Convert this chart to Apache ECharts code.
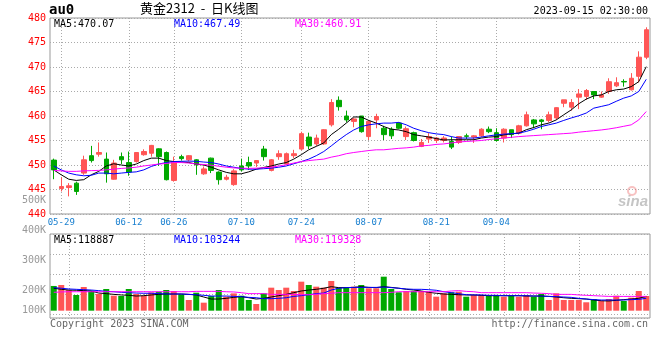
<!DOCTYPE html>
<html><head><meta charset="utf-8">
<script src="https://cdn.jsdelivr.net/npm/echarts@6/dist/echarts.min.js"></script>
<style>html,body{margin:0;padding:0;background:#fff}#c{width:660px;height:360px}</style>
</head><body><div id="c"></div>
<script>
const categories = ['05-25','05-26','05-29','05-30','05-31','06-01','06-02','06-05','06-06','06-07',
'06-08','06-09','06-12','06-13','06-14','06-15','06-16','06-19','06-20','06-21',
'06-26','06-27','06-28','06-29','06-30','07-03','07-04','07-05','07-06','07-07',
'07-10','07-11','07-12','07-13','07-14','07-17','07-18','07-19','07-20','07-21',
'07-24','07-25','07-26','07-27','07-28','07-31','08-01','08-02','08-03','08-04',
'08-07','08-08','08-09','08-10','08-11','08-14','08-15','08-16','08-17','08-18',
'08-21','08-22','08-23','08-24','08-25','08-28','08-29','08-30','08-31','09-01',
'09-04','09-05','09-06','09-07','09-08','09-11','09-12','09-13','09-14','09-15'];
const opens = [451.0,445.2,445.4,446.3,448.35,451.9,452.2,451.2,447.1,451.7,
450.5,450.7,452.1,452.4,453.3,452.55,446.85,451.7,451.06,451.06,
448.2,451.4,448.55,447.1,446.0,449.8,450.5,450.4,453.25,448.9,
451.7,450.2,451.9,453.25,455.7,454.3,454.3,458.2,463.2,460.0,
458.9,460.0,455.8,459.2,457.5,457.3,458.55,455.8,456.6,453.8,
455.3,455.0,455.0,454.8,454.6,455.95,455.7,455.95,457.3,456.6,
455.5,457.2,456.5,458.0,459.2,459.2,459.1,459.6,462.6,461.8,
463.85,464.0,465.0,463.85,465.0,466.15,467.05,465.35,468.1,472.0];
const closes = [449.0,445.6,445.75,444.6,451.06,450.9,452.55,448.2,450.4,451.06,
448.55,452.55,452.75,454.0,451.7,447.0,450.7,451.3,451.9,450.04,
449.2,448.9,447.0,447.5,448.8,449.0,449.8,450.9,451.7,451.06,
452.3,452.3,452.3,456.4,453.9,455.5,457.2,462.75,461.9,459.2,
459.4,456.8,458.9,459.9,456.2,455.95,457.5,457.4,455.0,454.6,
455.8,455.5,455.5,453.65,455.8,455.85,455.95,457.3,456.8,455.0,
457.3,456.2,458.0,460.25,458.4,458.9,460.25,461.7,463.3,462.75,
464.5,465.2,464.3,464.3,467.0,466.8,466.95,467.7,472.0,477.6];
const lows = [447.1,444.6,443.6,443.9,448.0,450.5,451.7,446.4,447.0,450.2,
447.8,450.5,451.9,451.7,449.8,446.85,446.6,450.9,450.7,448.0,
448.0,448.35,446.0,446.85,445.75,448.7,449.0,449.6,450.9,448.7,
451.06,450.04,451.4,453.0,453.25,453.9,454.1,457.85,461.1,458.7,
457.7,456.6,455.1,457.5,455.1,455.3,457.3,455.1,454.8,453.65,
454.5,454.5,454.6,453.25,454.3,455.3,454.5,455.7,456.5,454.8,
454.6,455.5,456.2,457.85,457.5,457.3,458.7,459.2,461.8,461.1,
461.4,463.3,463.45,463.7,464.5,465.9,466.0,465.2,466.85,471.6];
const highs = [451.3,447.5,446.3,446.6,451.9,453.9,454.6,452.55,451.06,452.55,
452.75,452.6,453.2,454.1,453.4,452.75,451.7,452.1,452.0,451.2,
449.7,451.5,448.7,448.0,449.15,451.3,451.7,451.0,453.9,451.2,
453.0,452.55,453.1,456.8,456.6,456.2,457.3,463.45,464.0,461.1,
459.6,460.0,459.1,460.45,458.0,457.7,458.7,457.85,456.8,455.3,
456.5,455.7,455.9,455.8,455.9,456.4,456.1,457.5,457.85,457.5,
457.5,457.2,458.2,460.9,459.4,459.4,460.9,461.8,463.3,463.45,
465.5,465.5,465.0,465.0,467.7,467.9,467.5,468.75,473.2,478.1];
const ma5 = [449.0,448.0,447.1,446.85,447.0,448.0,448.7,449.8,450.25,450.0,
449.8,450.2,450.9,451.4,451.4,450.9,450.7,450.6,450.5,450.2,
450.0,449.55,449.0,448.5,448.2,448.2,448.6,449.15,449.5,449.8,
450.2,450.5,451.2,452.1,453.1,453.8,454.5,456.2,457.3,458.55,
459.8,459.8,459.1,458.55,457.85,457.3,457.15,456.8,456.2,455.95,
455.7,455.4,455.1,455.15,455.15,455.15,455.15,455.5,455.7,455.8,
456.15,456.35,456.5,457.2,457.65,458.2,458.55,459.2,460.25,461.25,
462.5,463.45,464.1,464.3,465.0,465.35,465.5,466.0,467.0,470.07];
const ma10 = [449.8,449.0,448.35,448.0,447.8,447.9,448.35,448.35,448.2,448.35,
448.5,448.6,449.0,449.7,450.2,450.5,450.7,450.75,450.8,450.75,
450.6,450.5,450.2,449.8,449.55,449.3,449.15,449.15,449.25,449.35,
449.55,449.8,450.25,450.7,451.2,451.9,452.75,453.9,455.1,456.2,
457.15,457.85,458.2,458.4,458.55,458.55,458.7,458.2,457.5,457.0,
456.6,456.35,456.2,455.8,455.5,455.5,455.5,455.7,455.95,456.15,
456.3,456.4,456.5,456.85,457.3,457.85,458.2,458.55,459.1,459.6,
460.05,460.6,461.6,461.95,462.3,463.0,463.65,464.1,465.0,467.49];
const ma30 = [448.9,448.8,448.7,448.7,448.8,448.85,448.9,449.0,449.15,449.3,
449.4,449.55,449.8,450.0,450.2,450.3,450.5,450.5,450.4,450.2,
450.1,449.95,449.75,449.55,449.4,449.35,449.3,449.35,449.45,449.55,
449.8,450.04,450.4,450.7,450.9,451.06,451.2,451.6,451.9,452.3,
452.55,452.75,452.95,453.1,453.1,453.25,453.4,453.5,453.65,453.9,
454.0,454.2,454.3,454.5,454.7,454.8,454.9,455.0,455.2,455.35,
455.5,455.65,455.8,455.9,456.0,456.1,456.2,456.3,456.4,456.5,
456.7,456.85,457.0,457.15,457.35,457.6,457.9,458.2,459.2,460.91];
const volumes = [206000,214000,172500,130800,197500,166700,139200,180800,125000,122500,
180800,139200,125000,152500,158300,172500,164200,135800,89200,150000,
66700,122500,172500,116700,144200,125000,89200,55800,144200,191700,
172500,191700,164200,241700,214200,200000,191700,247500,191700,191700,
200000,214200,186700,186700,283300,180800,153300,164200,164200,164200,
158300,116700,145000,153300,158300,116700,130800,130800,125000,130800,
116700,125000,116700,130800,116700,139200,89200,145000,89200,89200,
89200,70000,97500,80800,97500,125000,80800,108300,164200,122500];
const volMa5 = [187000,178000,172000,170000,167000,164000,147000,142000,136000,131000,
128000,122000,125000,131000,136000,139000,139000,139000,136000,131000,
114000,97000,97000,103000,111000,117000,108000,97000,103000,114000,
125000,136000,150000,164000,172000,178000,187000,200000,192000,192000,
194000,200000,194000,192000,200000,194000,187000,178000,172000,164000,
153000,145000,139000,136000,133000,131000,131000,128000,125000,125000,
125000,125000,125000,122000,122000,122000,119000,114000,108000,103000,
100000,97000,89000,83000,81000,86000,92000,97000,103000,118887];
const volMa10 = [192000,187000,181000,178000,175000,172000,167000,161000,158000,153000,
150000,147000,145000,145000,142000,139000,139000,139000,136000,133000,
128000,122000,122000,122000,119000,117000,111000,108000,100000,100000,
103000,108000,119000,125000,133000,142000,147000,172000,187000,192000,
194000,194000,194000,194000,197000,192000,187000,181000,178000,178000,
175000,170000,158000,150000,142000,133000,131000,131000,128000,128000,
125000,125000,125000,125000,122000,122000,119000,117000,114000,111000,
103000,97000,92000,89000,89000,89000,89000,92000,94000,103244];
const volMa30 = [153000,156000,158000,158000,158000,158000,158000,158000,158000,158000,
158000,158000,158000,158000,158000,158000,158000,158000,158000,161000,
161000,161000,161000,158000,156000,150000,142000,142000,142000,136000,
136000,136000,136000,133000,133000,136000,142000,145000,150000,150000,
150000,150000,150000,150000,150000,153000,158000,158000,158000,158000,
158000,158000,158000,164000,167000,161000,158000,150000,150000,150000,
150000,150000,150000,150000,147000,145000,142000,136000,136000,136000,
131000,128000,125000,122000,119000,119000,119000,119000,119000,119328];
const tickLabels = ['05-29','06-12','06-26','07-10','07-24','08-07','08-21','09-04'];
const tickIndex = [1,10,16,25,33,42,51,59];
const volGridIndex = [2,12,40,50,60,70];
const priceAxis = {min:440, max:480, step:5};
const volLabelAxis = {min:100000, max:500000, step:100000};
const title = {code:'au0', name:'黄金2312  -  日K线图', time:'2023-09-15 02:30:00'};
const priceLegend = ['MA5:470.07','MA10:467.49','MA30:460.91'];
const volLegend = ['MA5:118887','MA10:103244','MA30:119328'];

const mono = '"DejaVu Sans Mono", monospace';
const UP = '#ff5555', DOWN = '#00a800';
const MA_COLORS = ['#000000','#0000ff','#ff00ff'];
const dotted = {color:'#aaaaaa', type:[1,2], width:1};
const showTick = (i) => tickIndex.indexOf(i) >= 0;
const showVolGrid = (i) => volGridIndex.indexOf(i) >= 0;

const candleData = opens.map((o,i)=>[o, closes[i], lows[i], highs[i]]);
const volData = volumes.map((v,i)=>({value:v, itemStyle:{color: closes[i] >= opens[i] ? UP : DOWN}}));

const chart = echarts.init(document.getElementById('c'), null, {renderer:'canvas'});
const lineS = (data, color, xi, yi) => ({type:'line', data, xAxisIndex:xi, yAxisIndex:yi, showSymbol:false, symbol:'none',
  lineStyle:{color, width:1}, itemStyle:{color}, z:5, silent:true});
const txt = (x, y, text, color, extra) => ({type:'text', left:x, top:y, style:Object.assign({text, fill:color, font:'10px '+mono}, extra||{}), z:100});

chart.setOption({
  animation:false,
  backgroundColor:'#ffffff',
  grid:[
    {left:50, top:18, width:600, height:196, show:true, borderColor:'#999', borderWidth:1},
    {left:50, top:234, width:600, height:84, show:true, borderColor:'#999', borderWidth:1},
    {left:50, top:200, width:600, height:120, show:false}
  ],
  xAxis:[
    {type:'category', gridIndex:0, data:categories, boundaryGap:true, axisLine:{show:false}, axisTick:{show:false},
     axisLabel:{interval:(i)=>showTick(i), formatter:(v,i)=>tickLabels[tickIndex.indexOf(i)] || '', color:'#1a80d0', fontFamily:mono, fontSize:9, margin:4},
     splitLine:{show:true, interval:(i)=>showTick(i), alignWithLabel:true, lineStyle:dotted}},
    {type:'category', gridIndex:1, data:categories, boundaryGap:true, axisLine:{show:false}, axisTick:{show:false}, axisLabel:{show:false},
     splitLine:{show:true, interval:(i)=>showVolGrid(i), alignWithLabel:true, lineStyle:dotted}},
    {type:'value', gridIndex:2, show:false}
  ],
  yAxis:[
    {type:'value', gridIndex:0, min:priceAxis.min, max:priceAxis.max, interval:priceAxis.step, axisLine:{show:false}, axisTick:{show:false},
     axisLabel:{color:'#ff0000', fontFamily:mono, fontSize:10, margin:4}, splitLine:{show:true, lineStyle:dotted}},
    {type:'value', gridIndex:1, min:-61000, max:639000, show:false},
    {type:'value', gridIndex:1, min:0, max:4.2, interval:1, inverse:true, axisLine:{show:false}, axisTick:{show:false}, axisLabel:{show:false},
     splitLine:{show:true, lineStyle:dotted}},
    {type:'value', gridIndex:2, min:volLabelAxis.min, max:volLabelAxis.max, interval:volLabelAxis.step, axisLine:{show:false}, axisTick:{show:false},
     splitLine:{show:false},
     axisLabel:{color:'#999999', fontFamily:mono, fontSize:10, margin:4,
       formatter:(v)=> v===volLabelAxis.min ? '{lo|'+(v/1000)+'K}' : (v/1000)+'K',
       rich:{lo:{color:'#999999', fontFamily:mono, fontSize:10, padding:[0,0,20,0]}}}}
  ],
  series:[
    {type:'candlestick', xAxisIndex:0, yAxisIndex:0, data:candleData, barWidth:5,
     itemStyle:{color:UP, color0:DOWN, borderColor:UP, borderColor0:DOWN, borderWidth:1}, z:2, silent:true},
    lineS(ma5, MA_COLORS[0], 0, 0), lineS(ma10, MA_COLORS[1], 0, 0), lineS(ma30, MA_COLORS[2], 0, 0),
    {type:'bar', xAxisIndex:1, yAxisIndex:1, data:volData, barWidth:6, z:2, silent:true},
    lineS(volMa5, MA_COLORS[0], 1, 1), lineS(volMa10, MA_COLORS[1], 1, 1), lineS(volMa30, MA_COLORS[2], 1, 1)
  ],
  graphic:[
    txt(49, 3, title.code, '#000', {font:'bold 14px '+mono}),
    {type:'text', left:140, top:2, style:{text:title.name, fill:'#000', font:'13px "Noto Sans CJK SC", sans-serif'}, z:100},
    {type:'text', right:12, top:6, style:{text:title.time, fill:'#000', font:'10px '+mono}, z:100},
    txt(54, 19, priceLegend[0], MA_COLORS[0]),
    txt(174, 19, priceLegend[1], MA_COLORS[1]),
    txt(295, 19, priceLegend[2], MA_COLORS[2]),
    txt(54, 235, volLegend[0], MA_COLORS[0]),
    txt(174, 235, volLegend[1], MA_COLORS[1]),
    txt(295, 235, volLegend[2], MA_COLORS[2]),
    txt(50, 319, 'Copyright 2023 SINA.COM', '#666'),
    {type:'text', right:12, top:319, style:{text:'http://finance.sina.com.cn', fill:'#666', font:'10px '+mono}, z:100},
    {type:'circle', shape:{cx:632, cy:191, r:4}, style:{fill:'none', stroke:'rgba(240,120,120,0.45)', lineWidth:2}, z:100},
    {type:'text', left:618, top:194, style:{text:'sina', fill:'rgba(150,150,150,0.55)', font:'italic bold 15px "Liberation Sans", sans-serif'}, z:100}
  ]
});
</script></body></html>
